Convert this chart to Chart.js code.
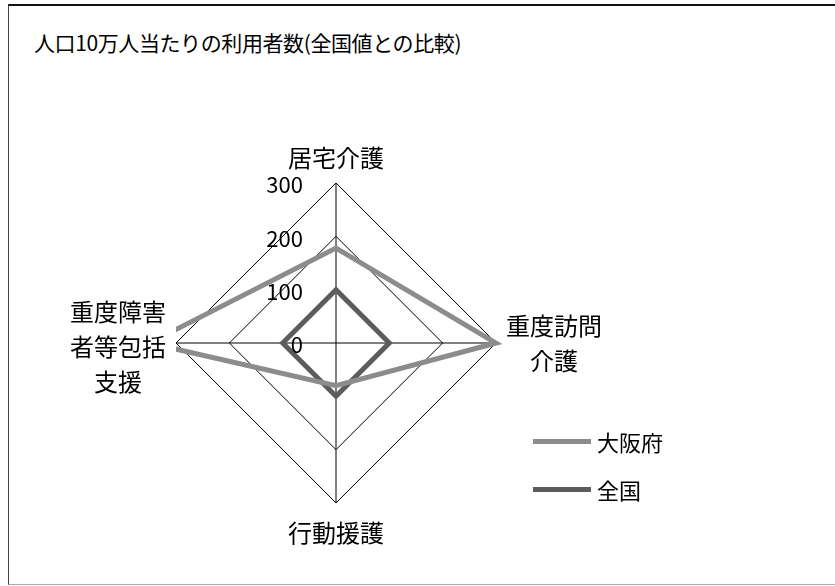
<!DOCTYPE html>
<html lang="ja">
<head>
<meta charset="utf-8">
<title>人口10万人当たりの利用者数</title>
<script src="https://cdn.jsdelivr.net/npm/chart.js@4"></script>
<style>
  html, body { margin: 0; padding: 0; background: #fff; }
  #wrap {
    position: relative; width: 835px; height: 586px; box-sizing: border-box;
    font-family: "Noto Sans CJK JP", sans-serif; color: #000;
  }
  #frame {
    position: absolute; left: 8px; top: 4px; right: 0; bottom: 1px;
    border-top: 2px solid #111; border-left: 1px solid #444; border-bottom: 1px solid #aaa;
  }
  #title { position: absolute; left: 34px; top: 27px; font-size: 21px; letter-spacing: -0.4px; white-space: nowrap; }
  #chartBox { position: absolute; left: 0; top: 0; width: 835px; height: 586px; }
  .leg { position: absolute; left: 533px; display: flex; align-items: center; font-size: 22px; }
  .leg i { display: inline-block; width: 58px; height: 5px; margin-right: 6px; }
</style>
</head>
<body>
<div id="wrap">
  <div id="frame"></div>
  <div id="title">人口10万人当たりの利用者数(全国値との比較)</div>
  <div id="chartBox"><canvas id="radar"></canvas></div>
  <div class="leg" style="top:425px"><i style="background:#8c8c8c"></i>大阪府</div>
  <div class="leg" style="top:473px"><i style="background:#5c5c5c"></i>全国</div>
</div>
<script>
// 軸ラベル(時計回り: 上, 右, 下, 左)
const categories = [["居宅介護"], ["重度訪問", "介護"], ["行動援護"], ["重度障害", "者等包括", "支援"]];
const osakaValues = [178, 300, 80, 350];
const zenkokuValues = [100, 100, 100, 100];
const tickValues = [0, 100, 200, 300];

const FONT = "'Noto Sans CJK JP', sans-serif";

// 目盛りと軸ラベルは自前で描く(左寄せの数値・中央揃えの複数行ラベル)
const labelPlugin = {
  id: "labelPlugin",
  afterDraw(chart) {
    const r = chart.scales.r;
    const ctx = chart.ctx;
    ctx.save();
    ctx.fillStyle = "#000";
    ctx.textBaseline = "middle";

    ctx.font = "22px " + FONT;
    ctx.textAlign = "right";
    tickValues.forEach((v) => {
      const d = r.getDistanceFromCenterForValue(v);
      ctx.fillText(String(v), r.xCenter - 33, r.yCenter - d + 2);
    });

    ctx.font = "24px " + FONT;
    ctx.textAlign = "center";
    const lineH = 35;
    categories.forEach((lines, i) => {
      const p = r.getPointPosition(i, r.drawingArea + 10);
      const w = Math.max(...lines.map((t) => ctx.measureText(t).width));
      const h = lines.length * lineH;
      let cx = p.x, top = p.y - h / 2;
      if (i === 0) top = p.y - h + 2;
      if (i === 2) top = p.y + 2;
      if (i === 1) cx = p.x + w / 2;
      if (i === 3) cx = p.x - w / 2;
      if (i === 3) top += 4;
      lines.forEach((t, k) => ctx.fillText(t, cx, top + lineH * k + lineH / 2));
    });
    ctx.restore();
  },
};

new Chart(document.getElementById("radar"), {
  type: "radar",
  data: {
    labels: categories,
    datasets: [
      {
        label: "大阪府",
        data: osakaValues,
        borderColor: "#8c8c8c",
        borderWidth: 5,
        pointRadius: 0,
        fill: false,
        clip: { left: 0, right: 10, top: 10, bottom: 10 },
      },
      {
        label: "全国",
        data: zenkokuValues,
        borderColor: "#5c5c5c",
        borderWidth: 5,
        pointRadius: 0,
        fill: false,
        clip: { left: 0, right: 10, top: 10, bottom: 10 },
      },
    ],
  },
  options: {
    responsive: true,
    maintainAspectRatio: false,
    animation: false,
    layout: { padding: { left: 176, right: 338, top: 183, bottom: 83 } },
    elements: { line: { tension: 0 } },
    plugins: { legend: { display: false }, tooltip: { enabled: false } },
    scales: {
      r: {
        min: 0,
        max: 300,
        ticks: { stepSize: 100, display: false },
        grid: { color: "#000", lineWidth: 1 },
        angleLines: { color: "#000", lineWidth: 1 },
        pointLabels: { display: false },
      },
    },
  },
  plugins: [labelPlugin],
});
</script>
</body>
</html>
